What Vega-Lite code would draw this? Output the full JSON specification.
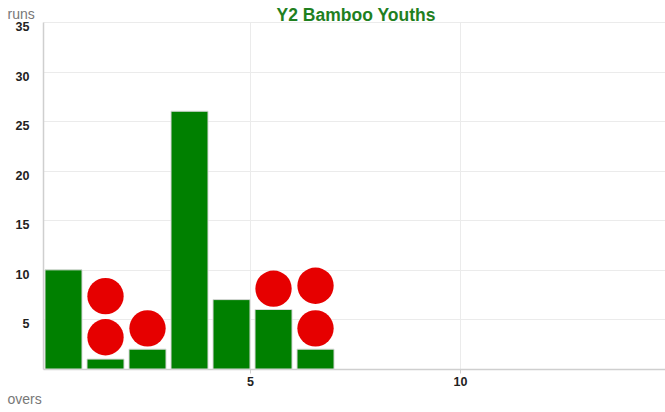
{
  "$schema": "https://vega.github.io/schema/vega-lite/v6.json",
  "width": 622,
  "height": 347,
  "autosize": "none",
  "padding": {"left": 43, "top": 22, "right": 0, "bottom": 43},
  "background": "white",
  "config": {"view": {"stroke": null}, "font": "Liberation Sans"},
  "title": {
    "text": "Y2 Bamboo Youths",
    "fontSize": 17.5,
    "fontWeight": "bold",
    "color": "#1f801f",
    "anchor": "middle",
    "frame": "group",
    "baseline": "alphabetic",
    "offset": 0,
    "dx": 2,
    "dy": 31
  },
  "datasets": {
    "overs": [
      {"over": 1, "from": 0, "runs": 10},
      {"over": 2, "from": 1, "runs": 1},
      {"over": 3, "from": 2, "runs": 2},
      {"over": 4, "from": 3, "runs": 26},
      {"over": 5, "from": 4, "runs": 7},
      {"over": 6, "from": 5, "runs": 6},
      {"over": 7, "from": 6, "runs": 2}
    ],
    "wickets": [
      {"over": 2, "from": 1, "y": 3.2},
      {"over": 2, "from": 1, "y": 7.35},
      {"over": 3, "from": 2, "y": 4.1},
      {"over": 6, "from": 5, "y": 8.1},
      {"over": 7, "from": 6, "y": 4.1},
      {"over": 7, "from": 6, "y": 8.4}
    ]
  },
  "layer": [
    {
      "data": {"name": "overs"},
      "mark": {"type": "bar", "color": "#008000", "stroke": "#d8d8d8", "strokeWidth": 1, "xOffset": 5},
      "encoding": {
        "x": {
          "field": "from",
          "type": "quantitative",
          "scale": {"domain": [0.0714, 14.88], "nice": false, "zero": false},
          "axis": {
            "values": [5, 10],
            "grid": true,
            "gridColor": "#ebebeb",
            "domainColor": "#cfcfcf",
            "domainWidth": 1.5,
            "tickColor": "#cfcfcf",
            "tickSize": 4,
            "labelFontSize": 12.5,
            "labelFontWeight": "bold",
            "labelColor": "#222222",
            "labelPadding": 2,
            "title": "overs",
            "titleAngle": 0,
            "titleX": -36,
            "titleY": 34.3,
            "titleAlign": "left",
            "titleBaseline": "alphabetic",
            "titleFontWeight": "normal",
            "titleFontSize": 14,
            "titleColor": "#777777"
          }
        },
        "x2": {"field": "over"},
        "y": {
          "field": "runs",
          "type": "quantitative",
          "scale": {"domain": [0, 35], "nice": false},
          "axis": {
            "values": [5, 10, 15, 20, 25, 30, 35],
            "grid": true,
            "gridColor": "#ebebeb",
            "domainColor": "#cfcfcf",
            "domainWidth": 1.5,
            "ticks": false,
            "tickSize": 0,
            "labelFontSize": 12.5,
            "labelFontWeight": "bold",
            "labelColor": "#222222",
            "labelPadding": 14,
            "labelOffset": 4.5,
            "title": "runs",
            "titleAngle": 0,
            "titleX": -36,
            "titleY": -3.5,
            "titleAlign": "left",
            "titleBaseline": "alphabetic",
            "titleFontWeight": "normal",
            "titleFontSize": 14,
            "titleColor": "#777777"
          }
        },
        "y2": {"datum": 0}
      }
    },
    {
      "data": {"name": "wickets"},
      "mark": {"type": "circle", "color": "#e60000", "opacity": 1, "size": 1320, "xOffset": 23.5},
      "encoding": {
        "x": {"field": "from", "type": "quantitative"},
        "y": {"field": "y", "type": "quantitative"}
      }
    }
  ]
}
